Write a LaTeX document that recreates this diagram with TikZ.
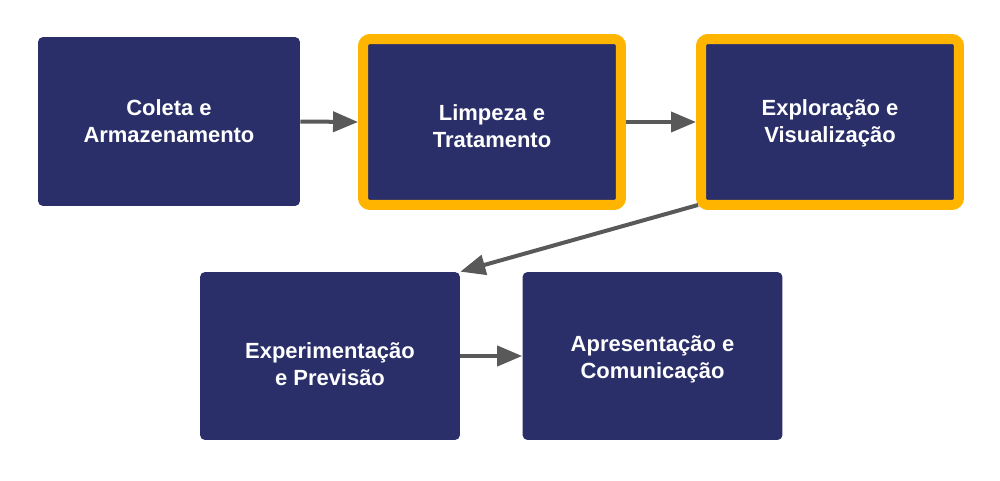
\documentclass[tikz,border=0pt]{standalone}
\usepackage{fontspec}
\setmainfont{Liberation Sans}
\usetikzlibrary{arrows.meta}
\definecolor{navy}{RGB}{42,47,106}
\definecolor{amber}{RGB}{255,180,0}
\definecolor{arrowgray}{RGB}{89,89,89}

\begin{document}
\begin{tikzpicture}[x=0.02cm, y=-0.02cm,
    caption/.style={text=white, align=center, font=\fontsize{12.5}{15.4}\selectfont\bfseries},
    stage/.style={rectangle, rounded corners=0.1cm, fill=navy, minimum width=5.24cm, minimum height=3.38cm},
    hilite/.style={stage, draw=amber, line width=0.2cm, rounded corners=0.14cm,
        minimum width=5.16cm, minimum height=3.32cm},
    flow/.style={draw=arrowgray, line width=0.08cm, -{Triangle[length=0.5cm, width=0.4cm]}}]

    \useasboundingbox (0,0) rectangle (1000,480);

    \node[stage, label={[caption]center:{Coleta e\\Armazenamento}}] (coleta) at (169,121.5) {};
    \node[hilite, label={[caption, yshift=-0.09cm]center:{Limpeza e\\Tratamento}}] (limpeza) at (492,122) {};
    \node[hilite, label={[caption, yshift=-0.02cm]center:{Exploração e\\Visualização}}] (explora) at (830,122) {};
    \node[stage, minimum width=5.2cm, minimum height=3.36cm,
        label={[caption, yshift=-0.17cm]center:{Experimentação\\e Previsão}}] (experim) at (330,356) {};
    \node[stage, minimum width=5.2cm, minimum height=3.36cm,
        label={[caption, yshift=-0.06cm]center:{Apresentação e\\Comunicação}}] (apresent) at (652.5,356) {};

    \draw[flow] (coleta.east) -- (limpeza.west);
    \draw[flow] (limpeza.east) -- (explora.west);
    \draw[flow] ([xshift=0.04cm, yshift=0.1cm]explora.south west) -- (experim.north east);
    \draw[flow] (experim.east) -- (apresent.west);

\end{tikzpicture}
\end{document}
